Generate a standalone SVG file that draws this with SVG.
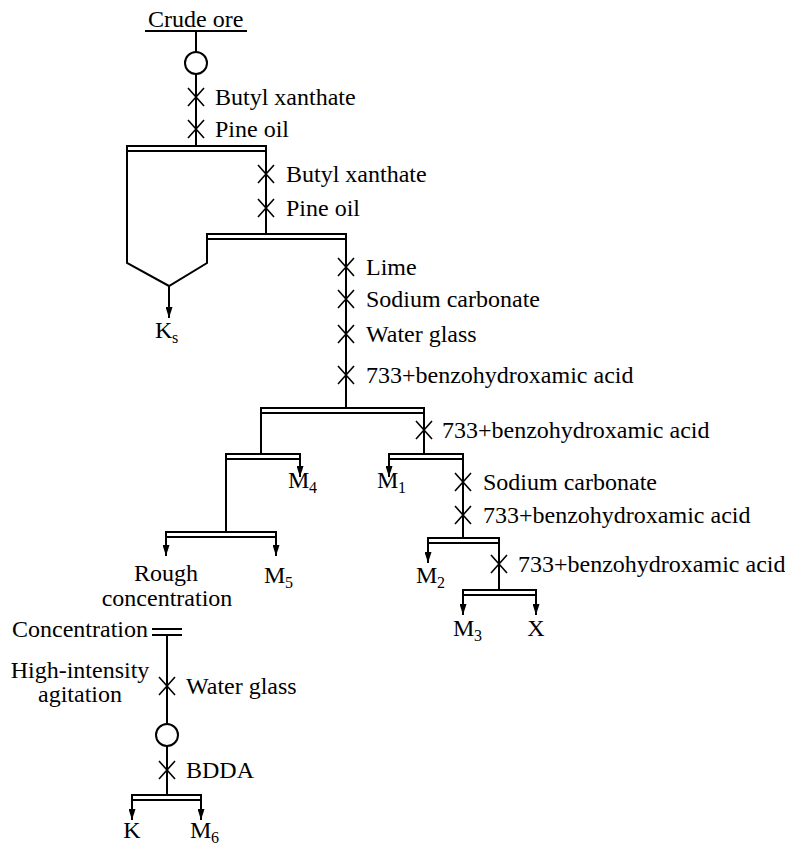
<svg xmlns="http://www.w3.org/2000/svg" width="785" height="845" viewBox="0 0 785 845">
<defs>
<style>
text{font-family:"Liberation Serif","Times New Roman",serif;font-size:24px;fill:#000}
.s{font-size:16px}
.c{text-anchor:middle}
.r{text-anchor:end}
.ln{stroke:#000;stroke-width:2;fill:none}
.bar{stroke:#000;stroke-width:2;fill:#fff}
.xm{stroke:#000;stroke-width:1.6;fill:none}
</style>
<path id="xm" class="xm" d="M-8,-9L8,9M-8,9L8,-9"/>
<marker id="ah" markerWidth="11" markerHeight="7" refX="11" refY="3.5" orient="auto" markerUnits="userSpaceOnUse" viewBox="0 0 11 7">
<path d="M0,0L11,3.5L0,7Z" fill="#000"/>
</marker>
</defs>
<rect width="785" height="845" fill="#fff"/>
<g id="connectors">
<path class="ln" d="M145,31H247M196,31V52M196,74V146"/>
<path class="ln" d="M127,146V263L169,286L207,263V239"/>
<path class="ln" d="M169,286V318" marker-end="url(#ah)"/>
<path class="ln" d="M266,151V234"/>
<path class="ln" d="M346,239V408"/>
<path class="ln" d="M261,413V454M424,413V454"/>
<path class="ln" d="M300,459V477" marker-end="url(#ah)"/>
<path class="ln" d="M226,459V532"/>
<path class="ln" d="M389,459V477" marker-end="url(#ah)"/>
<path class="ln" d="M463,459V538"/>
<path class="ln" d="M166,537V556" marker-end="url(#ah)"/>
<path class="ln" d="M276,537V556" marker-end="url(#ah)"/>
<path class="ln" d="M428,543V563" marker-end="url(#ah)"/>
<path class="ln" d="M499,543V590"/>
<path class="ln" d="M463,595V615" marker-end="url(#ah)"/>
<path class="ln" d="M536,595V615" marker-end="url(#ah)"/>
<path class="ln" d="M152,629H182M152,635H182M167,635V724M167,746V795"/>
<path class="ln" d="M132,800V820" marker-end="url(#ah)"/>
<path class="ln" d="M201,800V820" marker-end="url(#ah)"/>
</g>
<g id="crude-ore"><text x="148" y="27">Crude ore</text></g>
<g id="grinding1"><circle class="ln" cx="196" cy="63" r="11"/></g>
<g id="reagent1">
<use href="#xm" x="196" y="97"/><text x="215" y="105">Butyl xanthate</text>
<use href="#xm" x="196" y="129"/><text x="215" y="137">Pine oil</text>
</g>
<g id="bar1"><rect class="bar" x="127" y="146" width="139" height="5"/></g>
<g id="reagent2">
<use href="#xm" x="266" y="174"/><text x="286" y="182">Butyl xanthate</text>
<use href="#xm" x="266" y="208"/><text x="286" y="216">Pine oil</text>
</g>
<g id="bar2"><rect class="bar" x="207" y="234" width="139" height="5"/></g>
<g id="ks"><text x="155" y="338">K</text><text class="s" x="172" y="343">s</text></g>
<g id="reagent3">
<use href="#xm" x="346" y="267"/><text x="366" y="275">Lime</text>
<use href="#xm" x="346" y="299"/><text x="366" y="307">Sodium carbonate</text>
<use href="#xm" x="346" y="334"/><text x="366" y="342">Water glass</text>
<use href="#xm" x="346" y="375"/><text x="366" y="383">733+benzohydroxamic acid</text>
</g>
<g id="bar3"><rect class="bar" x="261" y="408" width="163" height="5"/></g>
<g id="reagent4"><use href="#xm" x="424" y="430"/><text x="442" y="438">733+benzohydroxamic acid</text></g>
<g id="bar4"><rect class="bar" x="226" y="454" width="74" height="5"/></g>
<g id="m4"><text x="288" y="488">M</text><text class="s" x="309" y="493">4</text></g>
<g id="bar5"><rect class="bar" x="389" y="454" width="74" height="5"/></g>
<g id="m1"><text x="377" y="488">M</text><text class="s" x="398" y="493">1</text></g>
<g id="reagent5">
<use href="#xm" x="463" y="482"/><text x="483" y="490">Sodium carbonate</text>
<use href="#xm" x="463" y="515"/><text x="483" y="523">733+benzohydroxamic acid</text>
</g>
<g id="bar6"><rect class="bar" x="166" y="532" width="110" height="5"/></g>
<g id="rough"><text class="c" x="166" y="581">Rough</text><text class="c" x="167" y="606">concentration</text></g>
<g id="m5"><text x="264" y="583">M</text><text class="s" x="285" y="588">5</text></g>
<g id="bar7"><rect class="bar" x="428" y="538" width="71" height="5"/></g>
<g id="m2"><text x="416" y="583">M</text><text class="s" x="437" y="588">2</text></g>
<g id="reagent6"><use href="#xm" x="499" y="564"/><text x="518" y="572">733+benzohydroxamic acid</text></g>
<g id="bar8"><rect class="bar" x="463" y="590" width="73" height="5"/></g>
<g id="m3"><text x="453" y="636">M</text><text class="s" x="474" y="641">3</text></g>
<g id="x"><text class="c" x="536" y="636">X</text></g>
<g id="concentration"><text class="r" x="148" y="637">Concentration</text></g>
<g id="agitation"><text class="c" x="80" y="678">High-intensity</text><text class="c" x="80" y="702">agitation</text></g>
<g id="reagent7"><use href="#xm" x="167" y="686"/><text x="186" y="694">Water glass</text></g>
<g id="grinding2"><circle class="ln" cx="167" cy="735" r="11"/></g>
<g id="reagent8"><use href="#xm" x="167" y="770"/><text x="186" y="778">BDDA</text></g>
<g id="bar9"><rect class="bar" x="132" y="795" width="69" height="5"/></g>
<g id="k"><text class="c" x="132" y="838">K</text></g>
<g id="m6"><text x="190" y="838">M</text><text class="s" x="211" y="843">6</text></g>
</svg>
